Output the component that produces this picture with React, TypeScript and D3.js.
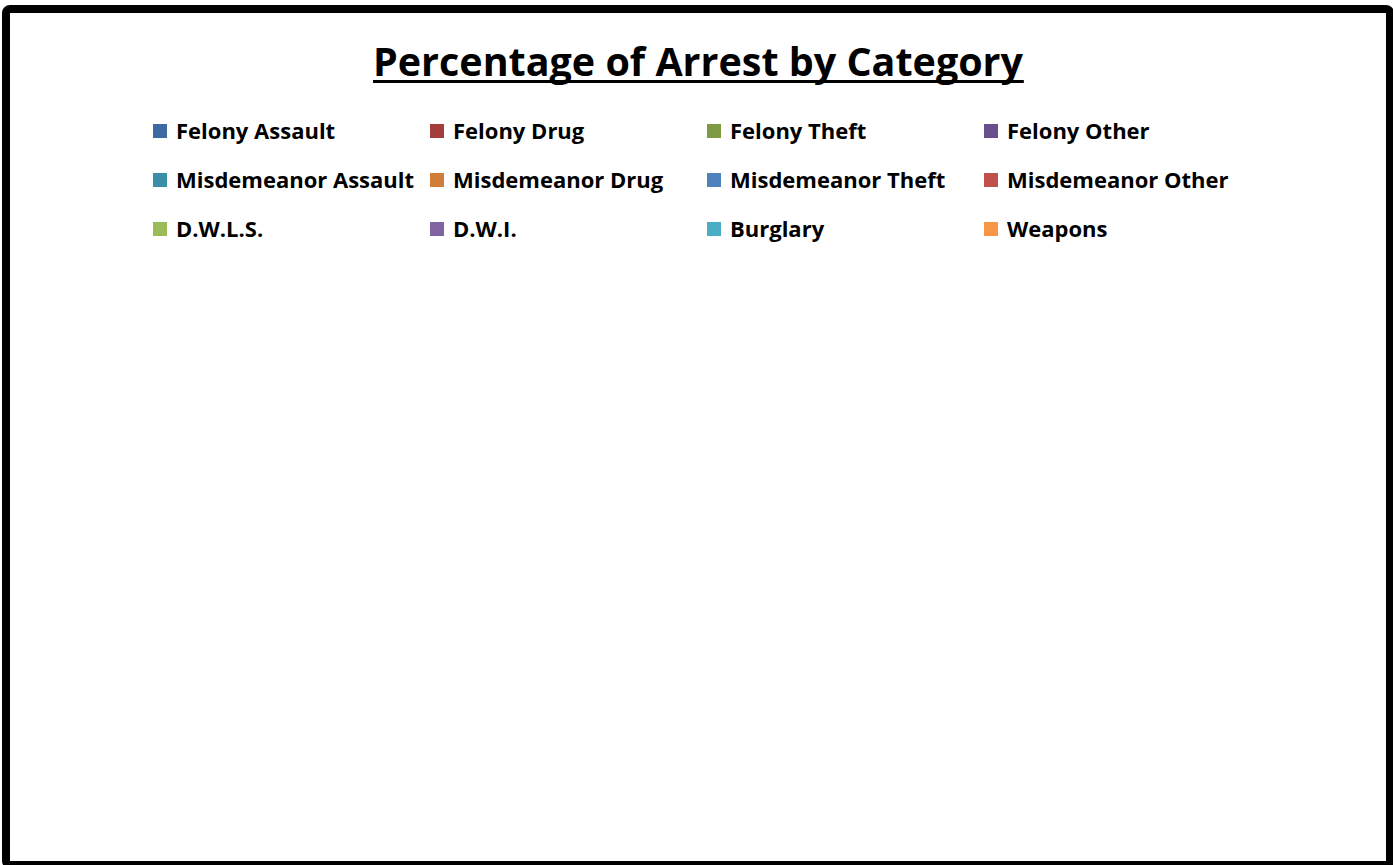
import { useRef, useEffect } from "react";
import * as d3 from "d3";

// Legend entries (chart has no plotted values)
const CATEGORIES = [
  "Felony Assault",
  "Felony Drug",
  "Felony Theft",
  "Felony Other",
  "Misdemeanor Assault",
  "Misdemeanor Drug",
  "Misdemeanor Theft",
  "Misdemeanor Other",
  "D.W.L.S.",
  "D.W.I.",
  "Burglary",
  "Weapons",
];

const COLORS = [
  "#3E6AA1",
  "#A33E3C",
  "#7E9B43",
  "#694F8B",
  "#3A8FA6",
  "#D27D37",
  "#4F81BD",
  "#C0504D",
  "#9BBB59",
  "#8064A2",
  "#4BACC6",
  "#F79646",
];

const TITLE = "Percentage of Arrest by Category";

const W = 1393;
const H = 865;
const FONT = "'Open Sans', 'DejaVu Sans', sans-serif";

export default function App() {
  const svgRef = useRef<SVGSVGElement>(null);

  useEffect(() => {
    if (!svgRef.current) return;
    const svg = d3.select(svgRef.current);
    svg.selectAll("*").remove();

    svg.attr("width", W).attr("height", H);

    // background + frame
    svg.append("rect").attr("x", 0).attr("y", 0).attr("width", W).attr("height", H).attr("fill", "#fff");
    svg.append("rect")
      .attr("x", 6).attr("y", 9).attr("width", 1384).attr("height", 856)
      .attr("rx", 4)
      .attr("fill", "none").attr("stroke", "#000").attr("stroke-width", 8);

    // title with underline (fitted to the width Calibri would give)
    const title = svg.append("text")
      .attr("x", 698).attr("y", 76)
      .attr("text-anchor", "middle")
      .attr("textLength", 650).attr("lengthAdjust", "spacingAndGlyphs")
      .style("font-family", FONT).style("font-size", "39px").style("font-weight", "700")
      .style("fill", "#000")
      .text(TITLE);
    const tb = (title.node() as SVGTextElement).getBBox();
    svg.append("rect")
      .attr("x", tb.x).attr("y", 80).attr("width", tb.width).attr("height", 3)
      .attr("fill", "#000");

    // legend grid
    const cols = 4;
    const rows = Math.ceil(CATEGORIES.length / cols);
    const colX = d3.scaleLinear().domain([0, cols]).range([153, 153 + 277 * cols]);
    const rowY = d3.scaleLinear().domain([0, rows]).range([131, 131 + 49 * rows]);
    const color = d3.scaleOrdinal<string, string>().domain(CATEGORIES).range(COLORS);

    const items = svg.selectAll("g.legend-item")
      .data(CATEGORIES)
      .enter()
      .append("g")
      .attr("class", "legend-item")
      .attr("transform", (_, i) => `translate(${colX(i % cols)},${rowY(Math.floor(i / cols))})`);

    items.append("rect")
      .attr("x", 0).attr("y", -7).attr("width", 14).attr("height", 14)
      .attr("fill", (d) => color(d));

    items.append("text")
      .attr("x", 23).attr("y", 0).attr("dy", "0.36em")
      .style("font-family", FONT).style("font-size", "22px").style("font-weight", "700")
      .style("fill", "#000")
      .text((d) => d);

    return () => {
      svg.selectAll("*").remove();
    };
  }, []);

  return (
    <div style={{ position: "absolute", left: 0, top: 0, width: W, height: H }}>
      <svg ref={svgRef} style={{ display: "block" }} />
    </div>
  );
}
